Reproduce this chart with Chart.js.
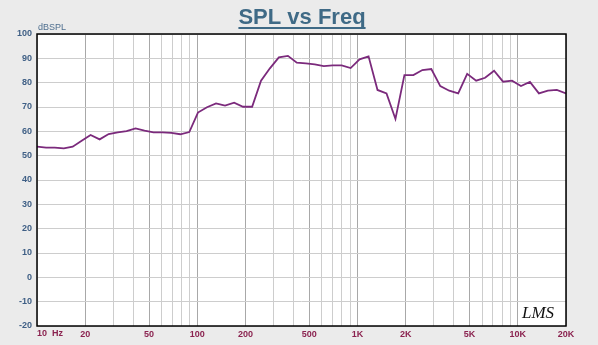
<!DOCTYPE html>
<html>
<head>
<meta charset="utf-8">
<script src="https://cdn.jsdelivr.net/npm/chart.js@4.4.0/dist/chart.umd.min.js"></script>
<style>
  html, body { margin: 0; padding: 0; background: #ebebeb; }
  #wrap { width: 598px; height: 345px; }
</style>
</head>
<body>
<div id="wrap"><canvas id="spl"></canvas></div>
<script>
const freqs = [10, 11.4, 12.9, 14.7, 16.7, 19.0, 21.6, 24.6, 28.0, 31.9,
  36.2, 41.2, 46.9, 53.3, 60.6, 68.9, 78.4, 89.2, 101, 115,
  131, 149, 170, 193, 220, 250, 284, 323, 368, 418,
  476, 541, 616, 700, 797, 906, 1030, 1172, 1333, 1517,
  1725, 1962, 2232, 2539, 2888, 3285, 3737, 4250, 4835, 5500,
  6256, 7116, 8094, 9207, 10473, 11912, 13550, 15413, 17532, 20000];
const spl = [53.7, 53.3, 53.3, 53.0, 53.7, 56.1, 58.5, 56.7, 58.9, 59.6,
  60.1, 61.2, 60.3, 59.6, 59.6, 59.4, 58.8, 59.7, 67.7, 69.9,
  71.5, 70.6, 71.8, 70.1, 70.1, 80.8, 85.9, 90.4, 91.0, 88.2,
  87.9, 87.5, 86.8, 87.1, 87.1, 86.0, 89.6, 90.8, 77.0, 75.6,
  65.1, 83.1, 83.1, 85.2, 85.6, 78.6, 76.7, 75.6, 83.6, 80.8,
  82.0, 84.9, 80.4, 80.8, 78.6, 80.3, 75.6, 76.7, 77.0, 75.6];

// axis ticks
const gridFreqs = [10, 20, 30, 40, 50, 60, 70, 80, 90,
  100, 200, 300, 400, 500, 600, 700, 800, 900,
  1000, 2000, 3000, 4000, 5000, 6000, 7000, 8000, 9000,
  10000, 20000];
const freqLabels = { 20: '20', 50: '50', 100: '100', 200: '200', 500: '500',
  1000: '1K', 2000: '2K', 5000: '5K', 10000: '10K', 20000: '20K' };
const firstLabel = '10  Hz';
const dbMin = -20, dbMax = 100;

const decor = {
  id: 'decor',
  beforeDraw(chart) {
    const c = chart.ctx;
    const a = chart.chartArea;
    c.save();
    c.fillStyle = '#fff';
    c.fillRect(a.left, a.top, a.right - a.left, a.bottom - a.top);
    c.restore();
  },
  afterDraw(chart) {
    const c = chart.ctx;
    const a = chart.chartArea;
    c.save();
    // frame
    c.strokeStyle = '#000';
    c.lineWidth = 1.5;
    c.strokeRect(a.left, a.top, a.right - a.left, a.bottom - a.top);
    // title
    c.fillStyle = '#3f6a86';
    c.font = 'bold 22px "Liberation Sans", Arial, sans-serif';
    c.textAlign = 'center';
    c.textBaseline = 'alphabetic';
    c.fillText('SPL vs Freq', 302, 24);
    const w = c.measureText('SPL vs Freq').width;
    c.fillRect(302 - w / 2, 27, w, 2);
    // unit label
    c.fillStyle = '#4f6f8f';
    c.font = '9px "Liberation Sans", Arial, sans-serif';
    c.textAlign = 'left';
    c.fillText('dBSPL', 38, 30);
    // first x label sits to the right of the axis start
    c.fillStyle = '#8b2350';
    c.font = 'bold 9px "Liberation Sans", Arial, sans-serif';
    c.textBaseline = 'top';
    c.fillText(firstLabel, a.left, a.bottom + 3);
    // logo
    c.fillStyle = '#111';
    c.textBaseline = 'alphabetic';
    c.font = 'italic 17px "Liberation Serif", serif';
    c.textAlign = 'center';
    c.fillText('LMS', 538, 318);
    c.restore();
  }
};

new Chart(document.getElementById('spl'), {
  type: 'line',
  data: {
    datasets: [{
      data: freqs.map((f, i) => ({ x: f, y: spl[i] })),
      borderColor: '#7b2a7c',
      borderWidth: 1.8,
      pointRadius: 0,
      tension: 0,
      fill: false
    }]
  },
  options: {
    responsive: true,
    maintainAspectRatio: false,
    animation: false,
    layout: { padding: { top: 34, right: 32, left: 0, bottom: 0 } },
    plugins: {
      legend: { display: false },
      tooltip: { enabled: false }
    },
    scales: {
      x: {
        type: 'logarithmic',
        min: 10,
        max: 20000,
        afterBuildTicks(scale) {
          scale.ticks = gridFreqs.map(v => ({ value: v }));
        },
        afterFit(scale) { scale.height = 19; },
        border: { display: false },
        grid: {
          drawTicks: false,
          lineWidth: 1,
          color: ctx => (freqLabels[ctx.tick.value] ? '#a8a8a8' : '#cdcdcd')
        },
        ticks: {
          autoSkip: false,
          maxRotation: 0,
          padding: 3,
          color: '#8b2350',
          font: { size: 9, weight: 'bold', family: '"Liberation Sans", Arial, sans-serif' },
          callback: v => freqLabels[v] || ''
        }
      },
      y: {
        min: dbMin,
        max: dbMax,
        afterFit(scale) { scale.width = 37; },
        border: { display: false },
        grid: {
          drawTicks: false,
          color: '#cdcdcd',
          lineWidth: 1
        },
        ticks: {
          stepSize: 5,
          padding: 5,
          color: '#3f5f85',
          font: { size: 9, weight: 'bold', family: '"Liberation Sans", Arial, sans-serif' },
          callback: v => (v % 10 === 0 ? String(v) : '')
        }
      }
    }
  },
  plugins: [decor]
});
</script>
</body>
</html>
